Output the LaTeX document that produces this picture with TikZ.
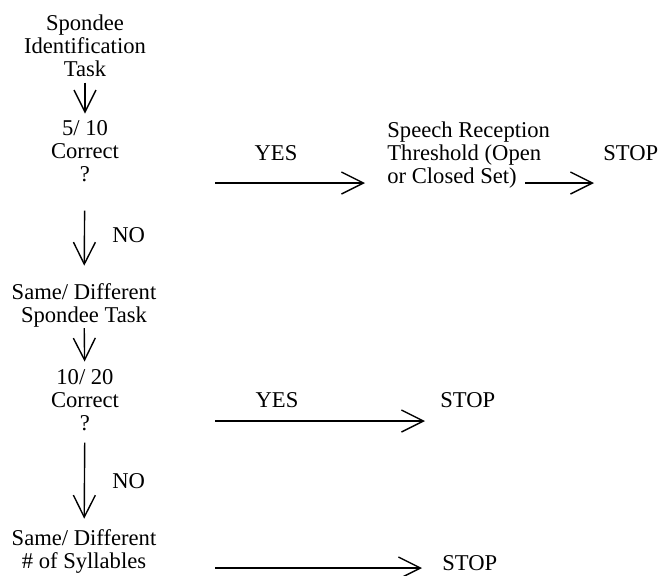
\documentclass[tikz,border=0pt]{standalone}
\usepackage{fontspec}
\setmainfont{Liberation Serif}
\usetikzlibrary{arrows.meta}
\tikzstyle{txt}=[inner sep=0pt,align=center,font=\fontsize{11.3}{11.5}\selectfont]
\tikzstyle{lft}=[txt,align=left,anchor=base west]
\tikzstyle{arr}=[line width=.7pt,-{Straight Barb[length=11pt,width=11pt]}]

\begin{document}
\begin{tikzpicture}[x=.5pt,y=.5pt]
\useasboundingbox (0,0) rectangle (659,-575);
% left column (base = last line)
\node[txt,anchor=base] (spon) at (85,-76) {Spondee\\Identification\\Task};
\node[txt,anchor=base] (qa) at (85,-181) {5/ 10\\Correct\\?};
\node[txt,anchor=base] (sda) at (84,-322) {Same/ Different\\Spondee Task};
\node[txt,anchor=base] (qb) at (85,-430) {10/ 20\\Correct\\?};
\node[txt,anchor=base] (sdb) at (84,-568) {Same/ Different\\\# of Syllables};
\draw[arr,shorten <=3pt,shorten >=3pt] (spon) -- (qa);
\draw[arr,shorten <=14.5pt,shorten >=8.5pt] (qa) -- (sda);
\draw[arr,shorten <=.5pt,shorten >=3.5pt] (sda) -- (qb);
\draw[arr,shorten <=6pt,shorten >=5pt] (qb) -- (sdb);
\node[lft] (noa) at (112,-242) {NO}; \node[lft] (nob) at (112,-488) {NO};
% right side
\node[lft] (srt) at (387,-183) {Speech Reception\\Threshold (Open\\or Closed Set)};
\node[lft] (stopa) at (603,-160) {STOP};
\node[lft] (stopb) at (440,-407) {STOP};
\node[lft] (stopc) at (442,-570) {STOP};
\node[txt,anchor=base] (yesa) at (276,-160) {YES};
\node[txt,anchor=base] (yesb) at (277,-407) {YES};
\coordinate (sa) at (215,-183); \coordinate (sb) at (525,-183);
\coordinate (sc) at (215,-421); \coordinate (sd) at (215,-568);
\draw[arr,shorten >=11pt] (sa) -- (sa -| srt.west);
\draw[arr,shorten >=4.5pt] (sb) -- (sb -| stopa.west);
\draw[arr,shorten >=7.5pt] (sc) -- (sc -| stopb.west);
\draw[arr,shorten >=10pt] (sd) -- (sd -| stopc.west);
\end{tikzpicture}
\end{document}
